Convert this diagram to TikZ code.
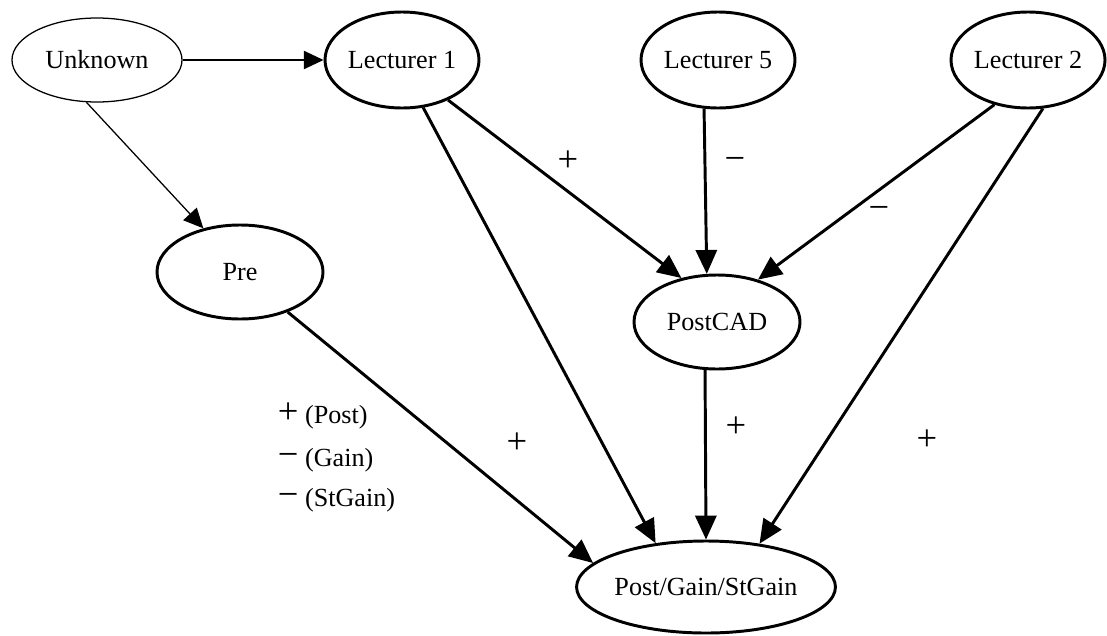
\documentclass[tikz,border=0pt]{standalone}
\usepackage{fontspec}
\setmainfont{Liberation Serif}
\usepackage{tikz}
\usetikzlibrary{shapes.geometric, arrows.meta}

\begin{document}
\begin{tikzpicture}[
    font=\fontsize{9.3}{11}\selectfont,
    var/.style={draw, ellipse, line width=1.05pt, inner sep=0pt},
    thinvar/.style={draw, ellipse, line width=0.45pt, inner sep=0pt},
    link/.style={-{Triangle[length=8.5pt, width=7.5pt]}, line width=1.05pt},
    thinlink/.style={-{Triangle[length=7pt, width=6.5pt]}, line width=0.45pt},
    sign/.style={inner sep=0pt, font=\fontsize{13}{15}\selectfont}
]
    \useasboundingbox (0,0) rectangle (13.8375,-7.9375);

    % Variables
    \node[thinvar, minimum width=2.125cm, minimum height=1.05cm] (unknown) at (1.2125,-0.75) {Unknown};
    \node[var, minimum width=1.925cm, minimum height=1.2cm] (lecA) at (5.025,-0.75) {Lecturer 1};
    \node[var, minimum width=1.925cm, minimum height=1.2cm] (lecE) at (8.975,-0.75) {Lecturer 5};
    \node[var, minimum width=1.925cm, minimum height=1.2cm] (lecB) at (12.85,-0.75) {Lecturer 2};
    \node[var, minimum width=2.075cm, minimum height=1.175cm] (pre) at (3.0,-3.4) {Pre};
    \node[var, minimum width=2.075cm, minimum height=1.175cm] (postcad) at (8.9625,-4.025) {PostCAD};
    \node[var, minimum width=3.025cm, minimum height=1.15cm] (outcome) at (8.825,-7.3375) {Post/Gain/StGain};

    % Links
    \draw[thinlink] (unknown.east) -- (lecA.west);
    \draw[thinlink] (unknown.-104) -- (pre.130);
    \draw[link] (lecA.-41) -- (postcad.129);
    \draw[link] (lecE.-106) -- (postcad.102);
    \draw[link] (lecB.-127) -- (postcad.46);
    \draw[link] (lecA.-66) -- (outcome.139);
    \draw[link] (postcad.-104) -- (outcome.90);
    \draw[link] (lecB.-73) -- (outcome.39);
    \draw[link] (pre.-40) -- (outcome.168);

    % Signs
    \node[sign] (sAC) at (7.1,-2.0125) {+};
    \node[sign] (sEC) at (9.1875,-2.05) {−};
    \node[sign] (sBC) at (10.9875,-2.6625) {−};
    \node[sign] (sAO) at (6.4625,-5.5375) {+};
    \node[sign] (sCO) at (9.2,-5.3375) {+};
    \node[sign] (sBO) at (11.5875,-5.5) {+};

    % Key for Pre
    \node[anchor=west] (keyPost) at (3.35,-5.2) {{\fontsize{13}{15}\selectfont +} (Post)};
    \node[anchor=west] (keyGain) at (3.35,-5.75) {{\fontsize{13}{15}\selectfont −} (Gain)};
    \node[anchor=west] (keyStGain) at (3.35,-6.25) {{\fontsize{13}{15}\selectfont −} (StGain)};
\end{tikzpicture}
\end{document}
